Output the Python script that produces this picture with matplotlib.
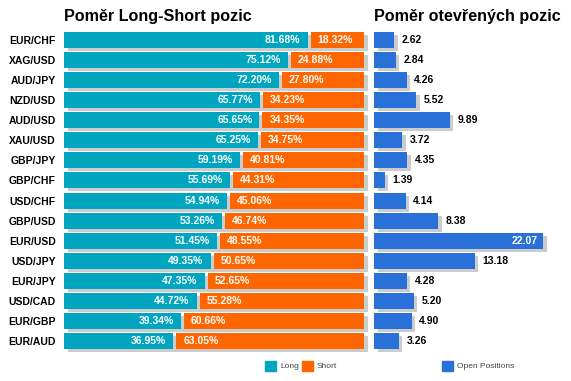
import matplotlib.pyplot as plt
from matplotlib.patches import Rectangle

pairs = ["EUR/CHF", "XAG/USD", "AUD/JPY", "NZD/USD", "AUD/USD", "XAU/USD", "GBP/JPY", "GBP/CHF",
         "USD/CHF", "GBP/USD", "EUR/USD", "USD/JPY", "EUR/JPY", "USD/CAD", "EUR/GBP", "EUR/AUD"]
long_pct = [81.68, 75.12, 72.20, 65.77, 65.65, 65.25, 59.19, 55.69,
            54.94, 53.26, 51.45, 49.35, 47.35, 44.72, 39.34, 36.95]
short_pct = [18.32, 24.88, 27.80, 34.23, 34.35, 34.75, 40.81, 44.31,
             45.06, 46.74, 48.55, 50.65, 52.65, 55.28, 60.66, 63.05]
open_pos = [2.62, 2.84, 4.26, 5.52, 9.89, 3.72, 4.35, 1.39,
            4.14, 8.38, 22.07, 13.18, 4.28, 5.20, 4.90, 3.26]

W, H = 571, 381
TEAL = "#00a5bf"
ORANGE = "#ff6600"
BLUE = "#2971d9"
SHADOW = "#cccccc"

plt.rcParams["font.family"] = ["Liberation Sans", "DejaVu Sans"]


def box(x, y, w, h):
    # pixel box (from top-left) -> figure fraction
    return [x / W, 1 - (y + h) / H, w / W, h / H]


fig = plt.figure(figsize=(W / 100, H / 100), dpi=100)
ax1 = fig.add_axes(box(64, 30, 300, 321))
ax2 = fig.add_axes(box(374, 30, 197, 321))

rows = list(range(len(pairs)))
bh = 0.8
sy = 3 / 20.06  # shadow offset in row units

# left panel: long / short
ax1.set_xlim(0, 100)
ax1.set_ylim(len(pairs) - 0.5, -0.5)
gap = 0.5
for i in rows:
    total = long_pct[i] + short_pct[i]
    ax1.add_patch(Rectangle((1.2, i - bh / 2 + sy), total, bh, color=SHADOW, clip_on=False, lw=0))
for i in rows:
    ax1.barh(i, long_pct[i] - gap, height=bh, color=TEAL, lw=0)
    ax1.barh(i, short_pct[i] - gap, left=long_pct[i] + gap, height=bh, color=ORANGE, lw=0)
    ax1.annotate(f"{long_pct[i]:.2f}%", (long_pct[i] - gap, i), xytext=(-5, 0),
                 textcoords="offset points", ha="right", va="center",
                 color="white", fontsize=7.5, fontweight="bold")
    ax1.annotate(f"{short_pct[i]:.2f}%", (long_pct[i] + gap, i), xytext=(5, 0),
                 textcoords="offset points", ha="left", va="center",
                 color="white", fontsize=7.5, fontweight="bold")
ax1.set_yticks(rows)
ax1.set_yticklabels(pairs, fontsize=7.5, fontweight="bold")
ax1.tick_params(axis="y", length=0, pad=6)
ax1.set_xticks([])
for s in ax1.spines.values():
    s.set_visible(False)

# right panel: open positions
scale = 7.66  # px per unit
ax2.set_xlim(0, 197 / scale)
ax2.set_ylim(len(pairs) - 0.5, -0.5)
for i in rows:
    ax2.add_patch(Rectangle((3.5 / scale, i - bh / 2 + sy), open_pos[i], bh, color=SHADOW, clip_on=False, lw=0))
ax2.barh(rows, open_pos, height=bh, color=BLUE, lw=0)
for i in rows:
    v = open_pos[i]
    if v > 0.8 * max(open_pos):
        ax2.annotate(f"{v:.2f}", (v, i), xytext=(-4, 0), textcoords="offset points",
                     ha="right", va="center", color="white", fontsize=7.5, fontweight="bold")
    else:
        ax2.annotate(f"{v:.2f}", (v, i), xytext=(5.5, 0), textcoords="offset points",
                     ha="left", va="center", color="black", fontsize=7.5, fontweight="bold")
ax2.set_xticks([])
ax2.set_yticks([])
for s in ax2.spines.values():
    s.set_visible(False)

# titles
fig.text(64 / W, 1 - 17 / H, "Poměr Long-Short pozic", fontsize=11.6, fontweight="bold",
         ha="left", va="center")
fig.text(374 / W, 1 - 17 / H, "Poměr otevřených pozic", fontsize=11.6, fontweight="bold",
         ha="left", va="center")

# legends
legend_items = [(265, TEAL, "Long"), (302, ORANGE, "Short"), (442, BLUE, "Open Positions")]
for x, c, label in legend_items:
    fig.patches.append(Rectangle((x / W, 1 - 371 / H), 11 / W, 10 / H, color=c,
                                 transform=fig.transFigure, figure=fig))
    fig.text((x + 15) / W, 1 - 366 / H, label, fontsize=6, color="#444444",
             ha="left", va="center")

fig.savefig("out.png", dpi=100)
